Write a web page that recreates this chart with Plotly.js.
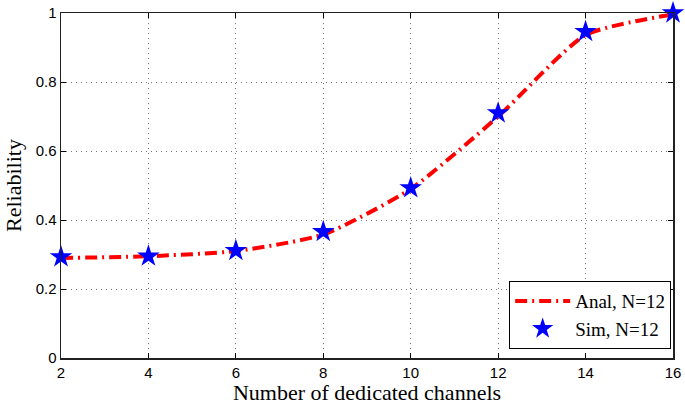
<!DOCTYPE html>
<html>
<head>
<meta charset="utf-8">
<script src="https://cdn.plot.ly/plotly-3.0.1.min.js"></script>
<style>
  html, body { margin: 0; padding: 0; background: #fff; }
  #chart { width: 685px; height: 406px; }
</style>
</head>
<body>
<div id="chart"></div>
<script>
// number of dedicated channels
const channels = [2, 4, 6, 8, 10, 12, 14, 16];
// analytical reliability (N=12)
const analReliability = [0.290, 0.295, 0.310, 0.358, 0.490, 0.700, 0.936, 0.996];
// simulated reliability (N=12)
const simReliability = [0.293, 0.295, 0.311, 0.366, 0.493, 0.710, 0.946, 1.0];

const xTicks = [2, 4, 6, 8, 10, 12, 14, 16];
const yTicks = [0, 0.2, 0.4, 0.6, 0.8, 1];

const traces = [
    {
        x: channels,
        y: analReliability,
        name: 'Anal, N=12',
        mode: 'lines',
        line: { color: '#ff0000', width: 4, dash: '12px,5px,2px,5px', shape: 'spline', smoothing: 0.6 },
        cliponaxis: false
    },
    {
        x: channels,
        y: simReliability,
        name: 'Sim, N=12',
        mode: 'markers',
        marker: { symbol: 'star', size: 17, color: '#0000ff', line: { width: 0 } },
        cliponaxis: false
    }
];

const layout = {
    width: 685,
    height: 406,
    margin: { l: 61, r: 12, t: 13, b: 48 },
    paper_bgcolor: '#ffffff',
    plot_bgcolor: '#ffffff',
    showlegend: true,
    legend: {
        x: 0.997, y: 0.026, xanchor: 'right', yanchor: 'bottom',
        bgcolor: '#ffffff', bordercolor: '#000000', borderwidth: 1,
        font: { family: 'Liberation Serif', size: 19, color: '#000' },
        itemwidth: 55,
        tracegroupgap: 4
    },
    xaxis: {
        range: [2, 16],
        tickvals: xTicks,
        ticks: 'inside', ticklen: 5, tickcolor: '#000',
        showline: true, linecolor: '#222', linewidth: 1.5, mirror: 'ticks',
        showgrid: true, gridcolor: '#777', griddash: '1px,4px', gridwidth: 1,
        zeroline: false,
        tickfont: { family: 'Liberation Sans', size: 15, color: '#000' },
        title: { text: 'Number of dedicated channels', font: { family: 'Liberation Serif', size: 22, color: '#000' }, standoff: 4 }
    },
    yaxis: {
        range: [0, 1],
        tickvals: yTicks,
        ticktext: ['0', '0.2', '0.4', '0.6', '0.8', '1'],
        ticks: 'inside', ticklen: 5, tickcolor: '#000',
        showline: true, linecolor: '#222', linewidth: 1.5, mirror: 'ticks',
        showgrid: true, gridcolor: '#777', griddash: '1px,4px', gridwidth: 1,
        zeroline: false,
        tickfont: { family: 'Liberation Sans', size: 15, color: '#000' },
        title: { text: 'Reliability', font: { family: 'Liberation Serif', size: 22, color: '#000' }, standoff: 8 }
    }
};

Plotly.newPlot('chart', traces, layout, { displayModeBar: false, staticPlot: true });
</script>
</body>
</html>
